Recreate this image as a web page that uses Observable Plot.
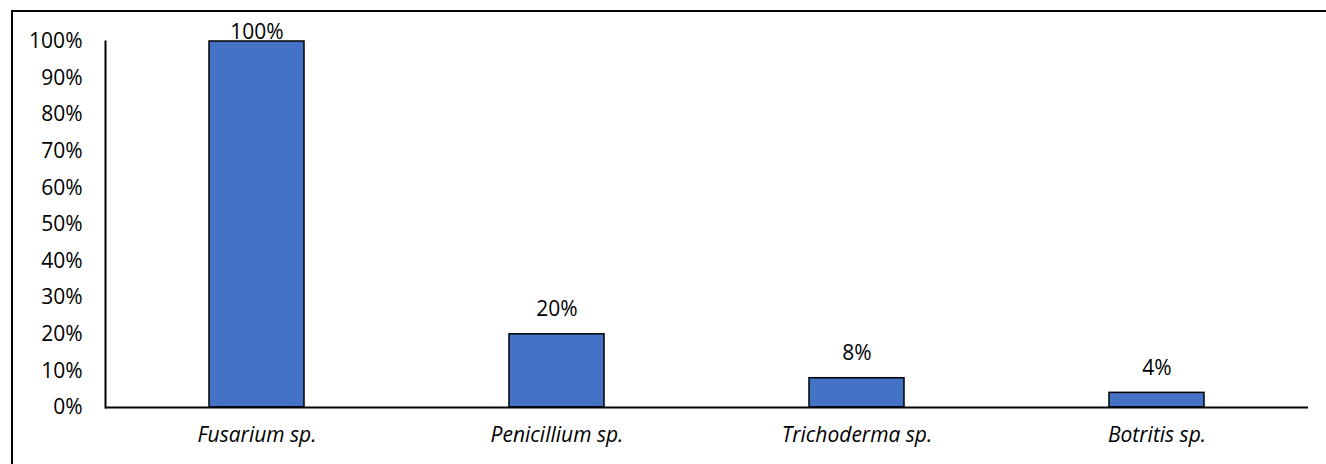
<!DOCTYPE html>
<html>
<head>
<meta charset="utf-8">
<script src="https://cdn.jsdelivr.net/npm/d3@7"></script>
<script src="https://cdn.jsdelivr.net/npm/@observablehq/plot@0.6"></script>
<style>
  html, body { margin: 0; padding: 0; background: #fff; overflow: hidden; }
  #wrap { position: relative; width: 1326px; height: 464px; }
  #border { position: absolute; left: 11px; top: 10px; width: 1400px; height: 600px; border: 2px solid #000; pointer-events: none; box-sizing: border-box; }
  svg { font-family: "Open Sans", sans-serif; }
</style>
</head>
<body>
<div id="wrap"><div id="border"></div></div>
<script>
const categories = ["Fusarium sp.", "Penicillium sp.", "Trichoderma sp.", "Botritis sp."];
const values = [1.00, 0.20, 0.08, 0.04];
const yTicks = [0, 0.1, 0.2, 0.3, 0.4, 0.5, 0.6, 0.7, 0.8, 0.9, 1.0];

const data = categories.map((c, i) => ({category: c, value: values[i]}));
const pct = d3.format(".0%");

const chart = Plot.plot({
  width: 1326,
  height: 464,
  marginLeft: 105,
  marginRight: 18,
  marginTop: 41,
  marginBottom: 57,
  style: {fontFamily: '"Open Sans", sans-serif', fontSize: "21px", color: "#000", background: "transparent"},
  x: {domain: categories, paddingInner: 0.684, paddingOuter: 0.342, align: 0.5, label: null},
  y: {domain: [0, 1], label: null},
  marks: [
    Plot.barY(data, {x: "category", y: "value", fill: "#4472C4", stroke: "#000", strokeWidth: 1.5}),
    Plot.axisY({ticks: yTicks, tickFormat: pct, tickSize: 0, tickPadding: 23, fontSize: 21, label: null}),
    Plot.axisX({tickSize: 0, tickPadding: 20, fontSize: 21, fontStyle: "italic", label: null}),
    Plot.frame({anchor: "left", strokeWidth: 2}),
    Plot.ruleY([0], {strokeWidth: 2}),
    Plot.text(data, {x: "category", y: d => Math.min(d.value + 0.068, 1.026), text: d => pct(d.value), fontSize: 21, fill: "#000"})
  ]
});
document.getElementById("wrap").prepend(chart);
</script>
</body>
</html>
